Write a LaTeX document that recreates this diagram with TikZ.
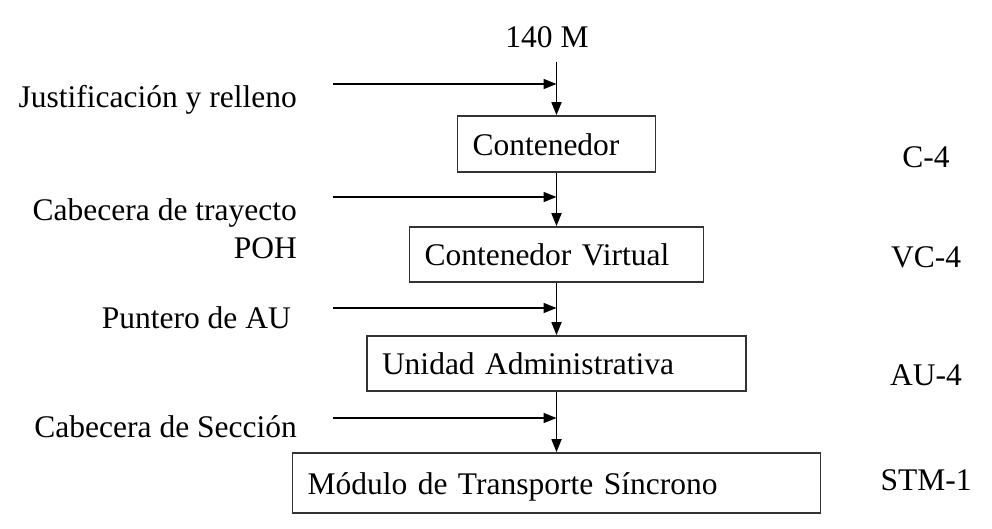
\documentclass[tikz,border=0pt]{standalone}
\usepackage{fontspec}
\setmainfont{Liberation Serif}
\usepackage{tikz}
\usetikzlibrary{arrows.meta}

\begin{document}
\begin{tikzpicture}[x=1pt,y=-1pt,
    every node/.style={font=\fontsize{31.5}{38}\selectfont},
    etiqueta/.style={inner sep=0pt},
    bloque/.style={draw=black!80,line width=1.7pt,align=left,inner xsep=15pt,
                   text height=27pt,text depth=5pt},
    flecha/.style={-{Triangle[length=13pt,width=10pt]},line width=1.7pt}]
      \useasboundingbox (0,0) rectangle (992,528);
      \node[etiqueta,anchor=base] (entrada) at (547,47) {140 M};
      % bloques
      \node[bloque,text width=168pt,minimum height=56pt] (c4) at (556.5,144) {Contenedor};
      \node[bloque,text width=264pt,minimum height=55pt] (vc4) at (556.5,254.5) {Contenedor Virtual};
      \node[bloque,text width=349pt,minimum height=55pt] (au4) at (556.5,363.5) {Unidad Administrativa};
      \node[bloque,text width=498pt,minimum height=60pt] (stm1) at (556.5,483) {Módulo de Transporte Síncrono};
      % etiquetas izquierda
      \foreach \n/\x/\y/\texto in {jus/297/107/{Justificación y relleno},
                                   cab/297/220/{Cabecera de trayecto},
                                   poh/297/258/{POH},
                                   pun/291/328/{Puntero de AU},
                                   sec/297/437/{Cabecera de Sección}}
      \node[etiqueta,anchor=base east] (\n) at (\x,\y) {\texto};
      % etiquetas derecha
      \foreach \n/\y/\texto in {lc4/167/{C-4},
                                lvc4/267/{VC-4},
                                lau4/385/{AU-4},
                                lstm1/490/{STM-1}}
      \node[etiqueta,anchor=base] (\n) at (926,\y) {\texto};
      % flujo vertical
      \coordinate (arriba) at (556.5,62);
      \draw[flecha] (arriba) -- (c4.north);
      \draw[flecha] (c4.south) -- (vc4.north);
      \draw[flecha] (vc4.south) -- (au4.north);
      \draw[flecha] (au4.south) -- (stm1.north);
      % entradas laterales
      \foreach \n/\y in {a/84,b/197,c/308,d/418}
      {
        \coordinate (in\n) at (333,\y);
        \draw[flecha] (in\n) -- (in\n -| c4.north);
      };
    \end{tikzpicture}
\end{document}
